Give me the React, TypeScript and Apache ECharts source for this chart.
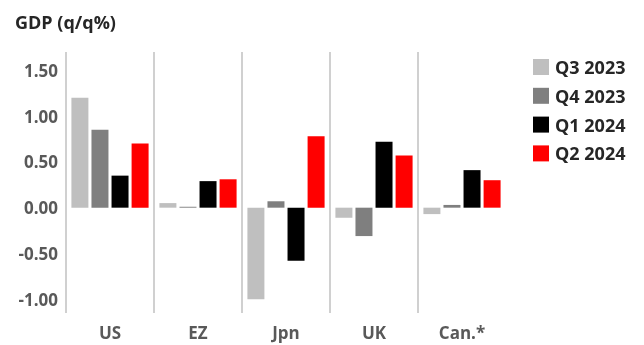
import React, { useEffect, useRef } from "react";
import * as echarts from "echarts";

const categories = ["US", "EZ", "Jpn", "UK", "Can.*"];
const seriesNames = ["Q3 2023", "Q4 2023", "Q1 2024", "Q2 2024"];
const q3_2023 = [1.2, 0.05, -1.0, -0.11, -0.07];
const q4_2023 = [0.85, 0.01, 0.07, -0.31, 0.03];
const q1_2024 = [0.35, 0.29, -0.58, 0.72, 0.41];
const q2_2024 = [0.7, 0.31, 0.78, 0.57, 0.3];
const yTicks = [-1, -0.5, 0, 0.5, 1, 1.5];
const colors = ["#bfbfbf", "#7f7f7f", "#000000", "#ff0000"];

const FONT = "'Open Sans', 'Liberation Sans', sans-serif";

export default function App() {
  const ref = useRef<HTMLDivElement>(null);

  useEffect(() => {
    if (!ref.current) return;
    const chart = echarts.init(ref.current, undefined, { renderer: "svg" });
    const values = [q3_2023, q4_2023, q1_2024, q2_2024];
    chart.setOption({
      animation: false,
      title: {
        text: "GDP (q/q%)",
        left: 10,
        top: 8,
        textStyle: {
          fontFamily: FONT,
          fontSize: 18,
          fontWeight: "bold",
          color: "#262626",
        },
      },
      legend: {
        orient: "vertical",
        left: 533,
        top: 58,
        padding: 0,
        itemWidth: 16,
        itemHeight: 16,
        itemGap: 10.8,
        icon: "rect",
        data: seriesNames,
        textStyle: {
          fontFamily: FONT,
          fontSize: 18,
          lineHeight: 16,
          fontWeight: "bold",
          color: "#262626",
          padding: [0, 0, 0, 1],
        },
      },
      grid: { left: 66, right: 138, top: 52, bottom: 32, containLabel: false },
      xAxis: {
        type: "category",
        data: categories,
        axisLine: { show: false },
        axisTick: { show: false },
        axisLabel: {
          margin: 11,
          fontFamily: FONT,
          fontSize: 17,
          fontWeight: "bold",
          color: "#595959",
        },
        splitLine: {
          show: true,
          showMinLine: true,
          showMaxLine: false,
          lineStyle: { color: "#c0c0c0", width: 1.5 },
        },
      },
      yAxis: {
        type: "value",
        min: -1.15,
        max: 1.7,
        splitLine: { show: false },
        axisLine: { show: false },
        axisTick: { show: false },
        axisLabel: {
          customValues: yTicks,
          margin: 8,
          fontFamily: FONT,
          fontSize: 17,
          fontWeight: "bold",
          color: "#595959",
          formatter: (v: number) => v.toFixed(2),
        },
      },
      series: seriesNames.map((name, i) => ({
        name,
        type: "bar",
        data: values[i],
        barWidth: 17,
        barGap: "18%",
        itemStyle: { color: colors[i] },
      })),
    });
    return () => chart.dispose();
  }, []);

  return (
    <div
      ref={ref}
      style={{ position: "fixed", left: 0, top: 0, width: 644, height: 345 }}
    />
  );
}
